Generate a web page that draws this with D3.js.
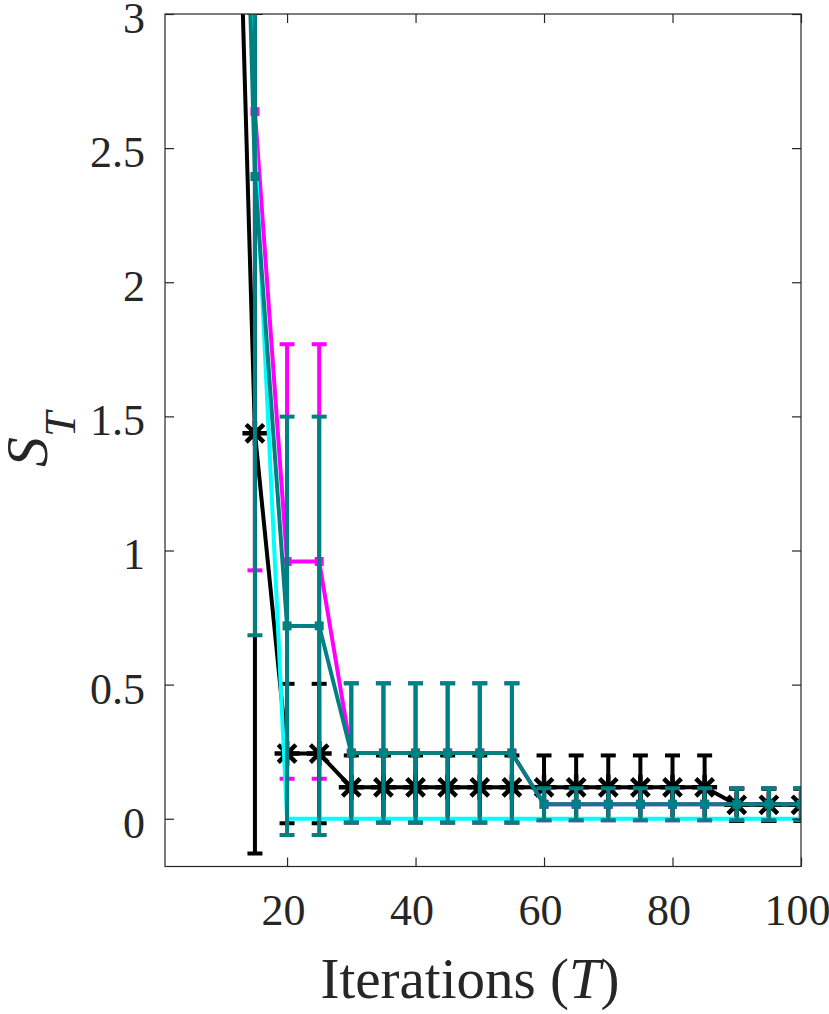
<!DOCTYPE html>
<html>
<head>
<meta charset="utf-8">
<script src="https://cdn.jsdelivr.net/npm/d3@7"></script>
<style>
  body { margin: 0; background: #fff; }
</style>
</head>
<body>
<div class="graphContainer"></div>
<script>
// iterations on the x axis
var iterations = [10, 15, 20, 25, 30, 35, 40, 45, 50, 55, 60, 65, 70, 75, 80, 85, 90, 95, 100];

// mean values and error bar half-lengths
var magentaMean = [6.9, 2.636, 0.959, 0.959, 0.245, 0.245, 0.245, 0.245, 0.245, 0.245,
                   0.054, 0.054, 0.054, 0.054, 0.054, 0.054, 0.054, 0.054, 0.054];
var magentaErr  = [1.5, 1.71, 0.81, 0.81, 0.26, 0.26, 0.26, 0.26, 0.26, 0.26,
                   0.06, 0.06, 0.06, 0.06, 0.06, 0.06, 0.06, 0.06, 0.06];

var blackMean = [5.6, 1.437, 0.243, 0.243, 0.117, 0.117, 0.117, 0.117, 0.117, 0.117,
                 0.117, 0.117, 0.117, 0.117, 0.117, 0.117, 0.052, 0.052, 0.052];
var blackErr  = [1.5, 1.567, 0.26, 0.26, 0.119, 0.119, 0.119, 0.119, 0.119, 0.119,
                 0.119, 0.119, 0.119, 0.119, 0.119, 0.119, 0.06, 0.06, 0.06];

var cyanMean = [6.8, 2.52, 0, 0, 0, 0, 0, 0, 0, 0, 0, 0, 0, 0, 0, 0, 0, 0, 0];

var tealMean = [6.7, 2.394, 0.719, 0.719, 0.245, 0.245, 0.245, 0.245, 0.245, 0.245,
                0.054, 0.054, 0.054, 0.054, 0.054, 0.054, 0.054, 0.054, 0.054];
var tealErr  = [1.5, 1.71, 0.78, 0.78, 0.26, 0.26, 0.26, 0.26, 0.26, 0.26,
                0.06, 0.06, 0.06, 0.06, 0.06, 0.06, 0.06, 0.06, 0.06];

var xTicks = [20, 40, 60, 80, 100];
var yTicks = [0, 0.5, 1, 1.5, 2, 2.5, 3];

var w = 829,
    h = 1014,
    plotLeft = 165, plotRight = 801, plotTop = 14, plotBottom = 866.5,
    axisColor = "#262626",
    font = "'Liberation Serif', 'Times New Roman', serif";

var x = d3.scaleLinear()
  .domain([1, 100])
  .range([plotLeft, plotRight]);

var y = d3.scaleLinear()
  .domain([-0.178, 3])
  .range([plotBottom, plotTop]);

// plotting order: magenta, black, cyan, teal on top
var series = [
  { color: "#ff00ff", mean: magentaMean, err: magentaErr, marker: "dot" },
  { color: "#000000", mean: blackMean, err: blackErr, marker: "star" },
  { color: "#00ffff", mean: cyanMean, err: null, marker: "none" },
  { color: "#008080", mean: tealMean, err: tealErr, marker: "dot" }
];

var svg = d3.select(".graphContainer")
  .append("svg")
  .attr("width", w)
  .attr("height", h)
  .style("font-family", font);

svg.append("defs").append("clipPath")
  .attr("id", "plotClip")
  .append("rect")
  .attr("x", plotLeft)
  .attr("y", plotTop)
  .attr("width", plotRight - plotLeft)
  .attr("height", plotBottom - plotTop);

var plot = svg.append("g").attr("clip-path", "url(#plotClip)");

var line = d3.line()
  .x(function (d) { return x(d.t); })
  .y(function (d) { return y(d.v); });

var lw = 4, cap = 7.5;

series.forEach(function (s) {
  var pts = iterations.map(function (t, i) {
    return { t: t, v: s.mean[i], e: s.err ? s.err[i] : 0 };
  });
  var g = plot.append("g");

  g.append("path")
    .datum(pts)
    .attr("d", line)
    .attr("fill", "none")
    .attr("stroke", s.color)
    .attr("stroke-width", lw)
    .attr("stroke-linejoin", "round");

  if (s.err) {
    var bars = g.selectAll(".bar")
      .data(pts)
      .enter()
        .append("g");
    // vertical part
    bars.append("line")
      .attr("x1", function (d) { return x(d.t); })
      .attr("x2", function (d) { return x(d.t); })
      .attr("y1", function (d) { return y(d.v - d.e); })
      .attr("y2", function (d) { return y(d.v + d.e); })
      .attr("stroke", s.color)
      .attr("stroke-width", lw);
    // caps
    [-1, 1].forEach(function (sign) {
      bars.append("line")
        .attr("x1", function (d) { return x(d.t) - cap; })
        .attr("x2", function (d) { return x(d.t) + cap; })
        .attr("y1", function (d) { return y(d.v + sign * d.e); })
        .attr("y2", function (d) { return y(d.v + sign * d.e); })
        .attr("stroke", s.color)
        .attr("stroke-width", lw);
    });
  }

  if (s.marker === "dot") {
    g.selectAll(".dot")
      .data(pts)
      .enter()
        .append("rect")
          .attr("x", function (d) { return x(d.t) - 4.5; })
          .attr("y", function (d) { return y(d.v) - 4.5; })
          .attr("width", 9)
          .attr("height", 9)
          .attr("fill", s.color);
  } else if (s.marker === "star") {
    g.selectAll(".star")
      .data(pts)
      .enter()
        .append("path")
          .attr("transform", function (d) {
            return "translate(" + x(d.t) + "," + y(d.v) + ")";
          })
          .attr("d", "M-12.5,0H12.5M0,-12.5V12.5M-8.8,-8.8L8.8,8.8M-8.8,8.8L8.8,-8.8")
          .attr("fill", "none")
          .attr("stroke", s.color)
          .attr("stroke-width", 4.5);
  }
});

// axes: inward ticks on all four sides (box on)
var axisBottom = d3.axisBottom(x)
  .tickValues(xTicks)
  .tickSizeInner(-9)
  .tickSizeOuter(0)
  .tickPadding(27);

var axisLeft = d3.axisLeft(y)
  .tickValues(yTicks)
  .tickFormat(d3.format("~g"))
  .tickSizeInner(-9)
  .tickSizeOuter(0)
  .tickPadding(20);

var axisTop = d3.axisTop(x)
  .tickValues(xTicks)
  .tickFormat("")
  .tickSizeInner(-9)
  .tickSizeOuter(0);

var axisRight = d3.axisRight(y)
  .tickValues(yTicks)
  .tickFormat("")
  .tickSizeInner(-9)
  .tickSizeOuter(0);

function styleAxis(g) {
  g.select(".domain").remove();
  g.selectAll(".tick line")
    .attr("stroke", axisColor)
    .attr("stroke-width", 1.2);
  g.selectAll(".tick text")
    .attr("fill", axisColor)
    .style("font-size", "44px")
    .style("font-family", font);
}

svg.append("g")
  .attr("transform", "translate(0," + plotBottom + ")")
  .call(axisBottom)
  .call(styleAxis)
  .selectAll(".tick text")
    .attr("dx", -4);

svg.append("g")
  .attr("transform", "translate(" + plotLeft + ",0)")
  .call(axisLeft)
  .call(styleAxis)
  .selectAll(".tick text")
    .attr("dy", "0.42em");

svg.append("g")
  .attr("transform", "translate(0," + plotTop + ")")
  .call(axisTop)
  .call(styleAxis);

svg.append("g")
  .attr("transform", "translate(" + plotRight + ",0)")
  .call(axisRight)
  .call(styleAxis);

// axes box
svg.append("rect")
  .attr("x", plotLeft)
  .attr("y", plotTop)
  .attr("width", plotRight - plotLeft)
  .attr("height", plotBottom - plotTop)
  .attr("fill", "none")
  .attr("stroke", axisColor)
  .attr("stroke-width", 1.2);

// x label
var xl = svg.append("text")
  .attr("x", 470)
  .attr("y", 998)
  .attr("text-anchor", "middle")
  .attr("fill", axisColor)
  .style("font-size", "57px");
xl.append("tspan").text("Iterations (");
xl.append("tspan").style("font-style", "italic").text("T");
xl.append("tspan").text(")");

// y label S_T, rotated
var yl = svg.append("text")
  .attr("transform", "translate(47,467) rotate(-90)")
  .attr("fill", axisColor)
  .style("font-style", "italic");
yl.append("tspan").style("font-size", "60px").text("S");
yl.append("tspan").attr("dy", 28).style("font-size", "45px").text("T");
</script>
</body>
</html>
